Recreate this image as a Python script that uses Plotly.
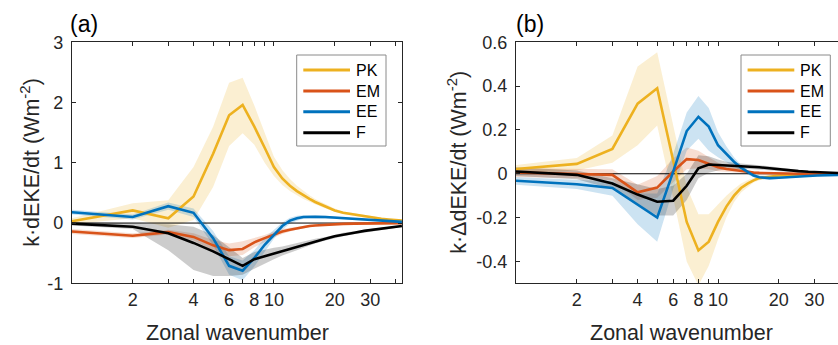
import math
import plotly.graph_objects as go

# ---------------- data ----------------
k = [1, 2, 3, 4, 5, 6, 7, 8, 9, 10, 11, 12, 13, 14, 15, 16, 18, 20, 22, 25, 28, 31, 34, 37, 40, 43]

# panel (a)
pk_a = [0.03, 0.21, 0.08, 0.44, 1.15, 1.79, 1.96, 1.60, 1.25, 0.93, 0.74, 0.62, 0.53, 0.46, 0.40, 0.35, 0.27, 0.21, 0.17, 0.14, 0.11, 0.085, 0.07, 0.058, 0.048, 0.04]
pk_a_lo = [-0.02, 0.08, -0.08, 0.05, 0.60, 1.28, 1.49, 1.30, 1.00, 0.78, 0.63, 0.53, 0.46, 0.40, 0.35, 0.31, 0.24, 0.19, 0.15, 0.12, 0.09, 0.07, 0.055, 0.047, 0.038, 0.03]
pk_a_hi = [0.08, 0.33, 0.38, 0.93, 1.60, 2.33, 2.41, 1.95, 1.50, 1.10, 0.88, 0.73, 0.62, 0.53, 0.46, 0.40, 0.31, 0.24, 0.19, 0.16, 0.13, 0.10, 0.085, 0.07, 0.058, 0.05]

em_a = [-0.14, -0.21, -0.15, -0.23, -0.37, -0.45, -0.43, -0.32, -0.25, -0.19, -0.14, -0.11, -0.085, -0.065, -0.05, -0.04, -0.028, -0.02, -0.014, -0.01, -0.007, -0.005, -0.004, -0.003, -0.002, -0.002]
em_a_lo = [-0.18, -0.25, -0.19, -0.29, -0.45, -0.55, -0.53, -0.40, -0.31, -0.24, -0.18, -0.14, -0.11, -0.085, -0.068, -0.055, -0.04, -0.03, -0.022, -0.016, -0.012, -0.009, -0.007, -0.006, -0.005, -0.004]
em_a_hi = [-0.10, -0.17, -0.11, -0.17, -0.28, -0.34, -0.30, -0.25, -0.20, -0.14, -0.10, -0.08, -0.06, -0.045, -0.033, -0.025, -0.016, -0.01, -0.006, -0.004, -0.002, -0.001, -0.001, 0.0, 0.0, 0.0]

ee_a = [0.18, 0.10, 0.28, 0.17, -0.25, -0.71, -0.79, -0.58, -0.36, -0.19, -0.05, 0.04, 0.08, 0.10, 0.105, 0.105, 0.10, 0.09, 0.08, 0.065, 0.05, 0.04, 0.035, 0.03, 0.025, 0.02]
ee_a_lo = [0.14, 0.06, 0.22, 0.10, -0.37, -0.86, -0.95, -0.72, -0.47, -0.26, -0.11, -0.01, 0.04, 0.07, 0.08, 0.08, 0.08, 0.07, 0.065, 0.05, 0.04, 0.03, 0.027, 0.023, 0.019, 0.015]
ee_a_hi = [0.22, 0.14, 0.34, 0.24, -0.13, -0.55, -0.62, -0.45, -0.25, -0.12, 0.01, 0.09, 0.12, 0.13, 0.13, 0.13, 0.12, 0.11, 0.095, 0.08, 0.06, 0.05, 0.043, 0.037, 0.031, 0.025]

f_a = [-0.01, -0.06, -0.17, -0.33, -0.47, -0.60, -0.71, -0.60, -0.55, -0.50, -0.46, -0.42, -0.39, -0.36, -0.33, -0.30, -0.26, -0.22, -0.19, -0.16, -0.13, -0.11, -0.095, -0.08, -0.065, -0.05]
f_a_lo = [-0.04, -0.10, -0.45, -0.78, -0.88, -0.88, -0.86, -0.76, -0.67, -0.60, -0.54, -0.49, -0.45, -0.41, -0.38, -0.34, -0.29, -0.25, -0.22, -0.185, -0.155, -0.13, -0.11, -0.095, -0.08, -0.065]
f_a_hi = [0.02, 0.00, -0.02, -0.06, -0.20, -0.40, -0.58, -0.48, -0.44, -0.41, -0.39, -0.36, -0.33, -0.31, -0.28, -0.26, -0.23, -0.19, -0.16, -0.135, -0.11, -0.09, -0.08, -0.065, -0.05, -0.035]

# panel (b)
pk_b = [0.022, 0.045, 0.113, 0.32, 0.39, 0.06, -0.22, -0.35, -0.31, -0.22, -0.15, -0.10, -0.065, -0.045, -0.03, -0.02, -0.012, -0.008, -0.006, -0.005, -0.004, -0.003, -0.002, -0.002, -0.001, -0.001]
pk_b_lo = [0.0, 0.015, 0.05, 0.13, 0.22, -0.11, -0.40, -0.51, -0.42, -0.30, -0.20, -0.13, -0.085, -0.06, -0.04, -0.03, -0.02, -0.015, -0.012, -0.01, -0.008, -0.007, -0.006, -0.005, -0.005, -0.004]
pk_b_hi = [0.04, 0.072, 0.175, 0.49, 0.555, 0.22, -0.06, -0.185, -0.185, -0.14, -0.10, -0.07, -0.045, -0.03, -0.02, -0.01, -0.005, -0.002, 0.0, 0.001, 0.002, 0.002, 0.003, 0.003, 0.003, 0.003]

em_b = [0.006, 0.0, -0.005, -0.085, -0.063, 0.01, 0.067, 0.063, 0.045, 0.03, 0.022, 0.017, 0.012, 0.008, 0.006, 0.004, 0.002, 0.001, 0.001, 0.0, 0.0, 0.0, 0.0, 0.0, 0.0, 0.0]
em_b_lo = [-0.015, -0.02, -0.03, -0.12, -0.11, -0.04, 0.02, 0.025, 0.02, 0.012, 0.008, 0.006, 0.004, 0.002, 0.001, 0.0, -0.002, -0.002, -0.002, -0.002, -0.002, -0.002, -0.002, -0.002, -0.002, -0.002]
em_b_hi = [0.025, 0.02, 0.02, -0.05, -0.01, 0.07, 0.12, 0.105, 0.075, 0.05, 0.038, 0.03, 0.022, 0.016, 0.012, 0.009, 0.006, 0.004, 0.003, 0.002, 0.002, 0.002, 0.002, 0.002, 0.002, 0.002]

ee_b = [-0.032, -0.048, -0.065, -0.14, -0.20, 0.01, 0.195, 0.26, 0.215, 0.13, 0.09, 0.055, 0.028, 0.008, -0.008, -0.016, -0.02, -0.018, -0.015, -0.012, -0.01, -0.008, -0.007, -0.006, -0.005, -0.004]
ee_b_lo = [-0.05, -0.07, -0.10, -0.23, -0.31, -0.07, 0.105, 0.16, 0.105, 0.075, 0.055, 0.033, 0.014, -0.003, -0.016, -0.024, -0.027, -0.024, -0.02, -0.016, -0.013, -0.011, -0.009, -0.008, -0.007, -0.006]
ee_b_hi = [-0.015, -0.028, -0.035, -0.09, -0.09, 0.09, 0.28, 0.355, 0.30, 0.19, 0.125, 0.075, 0.04, 0.018, 0.0, -0.008, -0.013, -0.012, -0.01, -0.008, -0.007, -0.005, -0.005, -0.004, -0.003, -0.002]

f_b = [0.01, -0.005, -0.045, -0.095, -0.128, -0.123, -0.055, 0.025, 0.042, 0.04, 0.037, 0.035, 0.034, 0.033, 0.032, 0.03, 0.025, 0.02, 0.016, 0.012, 0.009, 0.007, 0.005, 0.004, 0.003, 0.002]
f_b_lo = [-0.01, -0.025, -0.07, -0.14, -0.19, -0.19, -0.12, -0.02, 0.005, 0.015, 0.02, 0.022, 0.022, 0.022, 0.021, 0.02, 0.016, 0.012, 0.009, 0.006, 0.004, 0.003, 0.002, 0.001, 0.0, 0.0]
f_b_hi = [0.03, 0.015, -0.02, -0.05, -0.07, -0.055, 0.0, 0.085, 0.08, 0.065, 0.055, 0.05, 0.047, 0.045, 0.043, 0.04, 0.034, 0.028, 0.023, 0.018, 0.014, 0.011, 0.008, 0.007, 0.006, 0.004]

series_names = ["PK", "EM", "EE", "F"]
colors = {"PK": (237, 177, 32), "EM": (217, 83, 25), "EE": (0, 114, 189), "F": (0, 0, 0)}

x_tickvals = [2, 4, 6, 8, 10, 20, 30]
x_ticktext = ["2", "4", "6", "8", "10", "20", "30"]
ya_tickvals = [-1, 0, 1, 2, 3]
ya_ticktext = ["-1", "0", "1", "2", "3"]
yb_tickvals = [-0.4, -0.2, 0, 0.2, 0.4, 0.6]
yb_ticktext = ["-0.4", "-0.2", "0", "0.2", "0.4", "0.6"]

# ---------------- figure ----------------
W, H = 838, 345
FONT = "Liberation Sans, Arial, Helvetica, sans-serif"
TXT = "#262626"


def px(x):
    return x / W


def py(y):
    return 1 - y / H


panels = {
    "a": dict(xa="x", ya="y",
              data={"PK": (pk_a, pk_a_lo, pk_a_hi), "EM": (em_a, em_a_lo, em_a_hi),
                    "EE": (ee_a, ee_a_lo, ee_a_hi), "F": (f_a, f_a_lo, f_a_hi)}),
    "b": dict(xa="x2", ya="y2",
              data={"PK": (pk_b, pk_b_lo, pk_b_hi), "EM": (em_b, em_b_lo, em_b_hi),
                    "EE": (ee_b, ee_b_lo, ee_b_hi), "F": (f_b, f_b_lo, f_b_hi)}),
}

fig = go.Figure()
for p in panels.values():
    for name in series_names:
        mean, lo, hi = p["data"][name]
        r, g, b = colors[name]
        fig.add_trace(go.Scatter(x=k + k[::-1], y=hi + lo[::-1], fill="toself",
                                 fillcolor=f"rgba({r},{g},{b},0.2)", line=dict(width=0),
                                 mode="lines", hoverinfo="skip", showlegend=False,
                                 xaxis=p["xa"], yaxis=p["ya"]))
    fig.add_trace(go.Scatter(x=[k[0], k[-1]], y=[0, 0], mode="lines",
                             line=dict(color="black", width=1), showlegend=False,
                             xaxis=p["xa"], yaxis=p["ya"]))
    for name in series_names:
        mean, lo, hi = p["data"][name]
        r, g, b = colors[name]
        fig.add_trace(go.Scatter(x=k, y=mean, mode="lines", name=name,
                                 line=dict(color=f"rgb({r},{g},{b})", width=2.6),
                                 showlegend=False, xaxis=p["xa"], yaxis=p["ya"]))

ydom = [py(283.3), py(42.3)]
axis_common = dict(showgrid=False, zeroline=False, showline=True, linecolor=TXT, linewidth=1,
                   ticks="inside", ticklen=4, tickcolor=TXT, tickwidth=1, automargin=False,
                   tickfont=dict(family=FONT, size=18, color=TXT))
minor_log = dict(ticks="inside", ticklen=4, tickcolor=TXT, tickwidth=1, dtick="D1", showgrid=False)

fig.update_layout(
    width=W, height=H, autosize=False, margin=dict(l=0, r=0, t=0, b=0, pad=0),
    paper_bgcolor="white", plot_bgcolor="white", showlegend=False,
    font=dict(family=FONT, color=TXT),
    xaxis=dict(domain=[px(71.9), px(402.3)], type="log", range=[0, math.log10(43.2)],
               tickvals=x_tickvals, ticktext=x_ticktext, mirror="ticks", anchor="y",
               minor=minor_log, **axis_common),
    yaxis=dict(domain=ydom, range=[-1, 3], tickvals=ya_tickvals, ticktext=ya_ticktext,
               mirror="ticks", anchor="x", ticklabelstandoff=4, **axis_common),
    xaxis2=dict(domain=[px(516), 1.0], type="log", range=[0, (838 - 516) / 202.0],
                tickvals=x_tickvals, ticktext=x_ticktext, mirror="ticks", anchor="y2",
                minor=minor_log, **axis_common),
    yaxis2=dict(domain=ydom, range=[-0.5, 0.6], tickvals=yb_tickvals, ticktext=yb_ticktext,
                mirror=False, anchor="x2", ticklabelstandoff=4, **axis_common),
)

annotations = []
shapes = []
# panel labels
for lab, x0 in (("(a)", 68), ("(b)", 514)):
    annotations.append(dict(text=lab, x=px(x0), y=py(24), xref="paper", yref="paper",
                            xanchor="left", yanchor="middle", showarrow=False,
                            font=dict(family=FONT, size=23, color="black")))
# axis titles
for xc in (237, 681):
    annotations.append(dict(text="Zonal wavenumber", x=px(xc), y=py(333), xref="paper", yref="paper",
                            xanchor="center", yanchor="middle", showarrow=False,
                            font=dict(family=FONT, size=21.5, color=TXT)))
for txt, xc in (("k·dEKE/dt (Wm<sup>-2</sup>)", 30), ("k·ΔdEKE/dt (Wm<sup>-2</sup>)", 457)):
    annotations.append(dict(text=txt, x=px(xc), y=py(162.8), xref="paper", yref="paper",
                            xanchor="center", yanchor="middle", textangle=-90, showarrow=False,
                            font=dict(family=FONT, size=21.5, color=TXT)))
# legends
for off in (0, 444.3):
    shapes.append(dict(type="rect", xref="paper", yref="paper",
                       x0=px(296.7 + off), x1=px(386 + off), y0=py(146), y1=py(55),
                       line=dict(color="#8a8a8a", width=1), fillcolor="white", layer="above"))
    for i, name in enumerate(series_names):
        yc = [70, 91, 111.7, 132.7][i]
        r, g, b = colors[name]
        shapes.append(dict(type="line", xref="paper", yref="paper",
                           x0=px(303.3 + off), x1=px(350 + off), y0=py(yc), y1=py(yc),
                           line=dict(color=f"rgb({r},{g},{b})", width=3), layer="above"))
        annotations.append(dict(text=name, x=px(354 + off), y=py(yc), xref="paper", yref="paper",
                                xanchor="left", yanchor="middle", showarrow=False,
                                font=dict(family=FONT, size=16, color="black")))

fig.update_layout(annotations=annotations, shapes=shapes)
fig.write_html("out.html", config={"displayModeBar": False},
               post_script="document.body.style.margin='0';document.body.style.overflow='hidden';")
